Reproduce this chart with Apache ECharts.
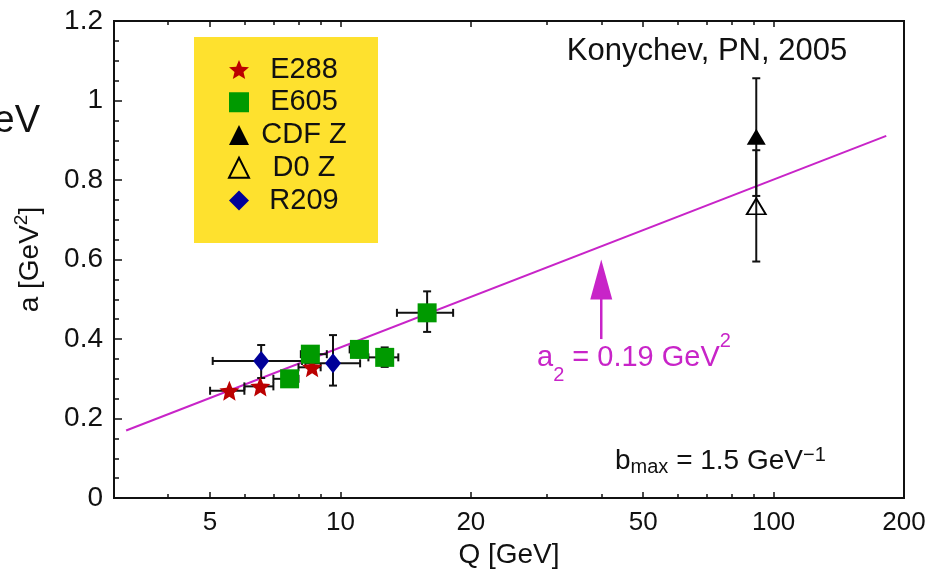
<!DOCTYPE html>
<html><head><meta charset="utf-8">
<script src="https://cdn.jsdelivr.net/npm/echarts@6/dist/echarts.min.js"></script>
<style>html,body{margin:0;padding:0;background:#fff}#c{width:944px;height:574px}</style>
</head><body><div id="c"></div>
<script>
// ---------------- data ----------------
const xAxisMin = 3, xAxisMax = 200;
const xTickLabels = [5, 10, 20, 50, 100, 200];
const xMajorTicks = [5, 10, 20, 50, 100];
const xMinorTicks = [4, 6, 7, 8, 9, 30, 40, 60, 70, 80, 90];
const yTickLabels = [0, 0.2, 0.4, 0.6, 0.8, 1, 1.2];

const e288Q   = [5.54, 6.53, 8.6];
const e288A   = [0.270, 0.281, 0.329];
const e288QLo = [5.0, 6.0, 8.0];
const e288QHi = [6.0, 7.0, 9.0];
const e288ALo = [0.270, 0.281, 0.329];
const e288AHi = [0.270, 0.281, 0.329];

const e605Q   = [7.63, 8.52, 11.06, 12.65, 15.85];
const e605A   = [0.300, 0.362, 0.374, 0.354, 0.466];
const e605QLo = [7.0, 8.1, 10.5, 11.6, 13.5];
const e605QHi = [8.0, 9.3, 11.5, 13.6, 18.2];
const e605ALo = [0.285, 0.347, 0.354, 0.330, 0.418];
const e605AHi = [0.315, 0.377, 0.394, 0.379, 0.520];

const cdfQ = [91.19], cdfA = [0.909], cdfALo = [0.760], cdfAHi = [1.056];
const d0Q  = [91.19], d0A  = [0.734], d0ALo  = [0.595], d0AHi  = [0.875];

const r209Q   = [6.56, 9.61];
const r209A   = [0.345, 0.339];
const r209QLo = [5.07, 8.3];
const r209QHi = [8.15, 11.1];
const r209ALo = [0.302, 0.283];
const r209AHi = [0.385, 0.410];

const fitQ = [3.2, 182];
const fitA = [0.17, 0.911];

const arrowQ = [40], arrowBase = [0.40], arrowTip = [0.60];

// ---------------- helpers ----------------
const L = Math.log10;
const FONT = '"Liberation Sans", Arial, Helvetica, sans-serif';
const MAG = '#C824C8';
const INK = '#111';
const STAR = 'path://M0,-10 L2.645,-3.64 L9.51,-3.09 L4.28,1.39 L5.88,8.09 L0,4.5 L-5.88,8.09 L-4.28,1.39 L-9.51,-3.09 L-2.645,-3.64 Z';

function pts(q, a) { return q.map((v, i) => [L(v), a[i]]); }
function errRows(q, a, ql, qh, al, ah) {
  return q.map((v, i) => [L(v), a[i], L(ql ? ql[i] : v), L(qh ? qh[i] : v), al[i], ah[i]]);
}
const errData = [].concat(
  errRows(e288Q, e288A, e288QLo, e288QHi, e288ALo, e288AHi),
  errRows(e605Q, e605A, e605QLo, e605QHi, e605ALo, e605AHi),
  errRows(r209Q, r209A, r209QLo, r209QHi, r209ALo, r209AHi),
  errRows(cdfQ, cdfA, null, null, cdfALo, cdfAHi),
  errRows(d0Q, d0A, null, null, d0ALo, d0AHi)
);

function renderErr(params, api) {
  const x = api.value(0), y = api.value(1);
  const xl = api.value(2), xh = api.value(3), yl = api.value(4), yh = api.value(5);
  const st = { stroke: INK, lineWidth: 2 };
  const cap = 4;
  const ch = [];
  if (xh > xl) {
    const p1 = api.coord([xl, y]), p2 = api.coord([xh, y]);
    ch.push({ type: 'line', shape: { x1: p1[0], y1: p1[1], x2: p2[0], y2: p2[1] }, style: st });
    ch.push({ type: 'line', shape: { x1: p1[0], y1: p1[1] - cap, x2: p1[0], y2: p1[1] + cap }, style: st });
    ch.push({ type: 'line', shape: { x1: p2[0], y1: p2[1] - cap, x2: p2[0], y2: p2[1] + cap }, style: st });
  }
  if (yh > yl) {
    const p1 = api.coord([x, yl]), p2 = api.coord([x, yh]);
    ch.push({ type: 'line', shape: { x1: p1[0], y1: p1[1], x2: p2[0], y2: p2[1] }, style: st });
    ch.push({ type: 'line', shape: { x1: p1[0] - cap, y1: p1[1], x2: p1[0] + cap, y2: p1[1] }, style: st });
    ch.push({ type: 'line', shape: { x1: p2[0] - cap, y1: p2[1], x2: p2[0] + cap, y2: p2[1] }, style: st });
  }
  return { type: 'group', children: ch };
}

function renderArrow(params, api) {
  const x = api.value(0);
  const pB = api.coord([x, api.value(1)]);
  const pT = api.coord([x, api.value(2)]);
  const headH = 40, headW = 11;
  return { type: 'group', children: [
    { type: 'line', shape: { x1: pB[0], y1: pB[1], x2: pT[0], y2: pT[1] + headH - 2 }, style: { stroke: MAG, lineWidth: 2.5 } },
    { type: 'polygon', shape: { points: [[pT[0], pT[1]], [pT[0] - headW, pT[1] + headH], [pT[0] + headW, pT[1] + headH]] }, style: { fill: MAG } }
  ]};
}

const xMin = L(xAxisMin), xMax = L(xAxisMax);
const tickStyle = { color: INK, width: 1.5 };
function xAxisDef(pos, ticks, len, labels) {
  return {
    type: 'value', position: pos, min: xMin, max: xMax,
    axisLine: { show: false }, splitLine: { show: false },
    axisTick: { show: true, inside: true, length: len, lineStyle: tickStyle, customValues: ticks.map(L) },
    axisLabel: labels ? {
      show: true, customValues: labels.map(L), margin: 12,
      fontSize: 26, fontFamily: FONT, color: INK,
      formatter: v => String(Math.round(Math.pow(10, v)))
    } : { show: false }
  };
}

const xAxes = [
  Object.assign(xAxisDef('bottom', xMajorTicks, 6, xTickLabels), {
    name: 'Q [GeV]', nameLocation: 'middle', nameGap: 37,
    nameTextStyle: { fontSize: 28, fontFamily: FONT, color: INK }
  }),
  xAxisDef('bottom', xMinorTicks, 4, null),
  xAxisDef('top', xMajorTicks, 6, null),
  xAxisDef('top', xMinorTicks, 4, null)
];

const chart = echarts.init(document.getElementById('c'), null, { renderer: 'canvas' });
chart.setOption({
  animation: false,
  backgroundColor: '#fff',
  grid: { left: 114, right: 40, top: 21, bottom: 73, show: true, borderColor: INK, borderWidth: 2, backgroundColor: 'transparent' },
  xAxis: xAxes,
  yAxis: {
    type: 'value', min: yTickLabels[0], max: yTickLabels[yTickLabels.length - 1],
    interval: yTickLabels[1] - yTickLabels[0],
    axisLine: { show: false }, splitLine: { show: false },
    axisTick: { show: true, inside: true, length: 8, lineStyle: tickStyle },
    minorTick: { show: true, splitNumber: 4, length: 5, lineStyle: tickStyle },
    minorSplitLine: { show: false },
    axisLabel: { margin: 11, fontSize: 28, fontFamily: FONT, color: INK },
    name: '{n|a [GeV}{s|2}{n|]}', nameLocation: 'middle', nameGap: 66,
    nameTextStyle: {
      fontFamily: FONT, color: INK,
      rich: {
        n: { fontSize: 28, fontFamily: FONT, color: INK, lineHeight: 36, verticalAlign: 'middle' },
        s: { fontSize: 19, fontFamily: FONT, color: INK, lineHeight: 24, verticalAlign: 'top' }
      }
    }
  },
  legend: {
    show: true, orient: 'vertical', left: 228, top: 55, padding: 0,
    itemWidth: 20, itemHeight: 20, itemGap: 3.75,
    data: ['E288', 'E605', 'CDF Z', 'D0 Z', 'R209'],
    formatter: n => '{c|' + n + '}',
    textStyle: {
      rich: { c: { width: 100, align: 'center', fontSize: 29, fontFamily: FONT, color: INK, lineHeight: 30 } }
    },
    z: 10
  },
  graphic: [
    { type: 'rect', z: 1, shape: { x: 194, y: 37, width: 184, height: 206 }, style: { fill: '#FEE12E' } },
    { type: 'text', z: 10, x: 707, y: 51, style: { text: 'Konychev, PN, 2005', fontSize: 31, fontFamily: FONT, fill: INK, align: 'center', verticalAlign: 'middle' } },
    { type: 'text', z: 10, x: 40, y: 122, style: { text: 'eV', fontSize: 38, fontFamily: FONT, fill: INK, align: 'right', verticalAlign: 'middle' } },
    { type: 'text', z: 10, x: 537, y: 358, style: {
        text: '{m|a}{b|2}{m| = 0.19 GeV}{p|2}', align: 'left', verticalAlign: 'middle', fill: MAG,
        rich: {
          m: { fontSize: 29, fontFamily: FONT, fill: MAG, lineHeight: 54, verticalAlign: 'middle' },
          b: { fontSize: 20, fontFamily: FONT, fill: MAG, lineHeight: 18, verticalAlign: 'bottom' },
          p: { fontSize: 20, fontFamily: FONT, fill: MAG, lineHeight: 28, verticalAlign: 'top' }
        } } },
    { type: 'text', z: 10, x: 615, y: 461, style: {
        text: '{m|b}{b|max}{m| = 1.5 GeV}{p|\u22121}', align: 'left', verticalAlign: 'middle', fill: INK,
        rich: {
          m: { fontSize: 28, fontFamily: FONT, fill: INK, lineHeight: 32, verticalAlign: 'middle' },
          b: { fontSize: 20, fontFamily: FONT, fill: INK, lineHeight: 18, verticalAlign: 'bottom' },
          p: { fontSize: 20, fontFamily: FONT, fill: INK, lineHeight: 14, verticalAlign: 'top' }
        } } }
  ],
  series: [
    { name: 'fit', type: 'line', data: pts(fitQ, fitA), symbol: 'none', z: 2,
      lineStyle: { color: MAG, width: 2 }, itemStyle: { color: MAG } },
    { name: 'arrow', type: 'custom', z: 2, renderItem: renderArrow,
      data: arrowQ.map((q, i) => [L(q), arrowBase[i], arrowTip[i]]) },
    { name: 'errors', type: 'custom', z: 3, renderItem: renderErr, data: errData },
    { name: 'E288', type: 'scatter', z: 4, symbol: STAR, symbolSize: 20, data: pts(e288Q, e288A),
      itemStyle: { color: '#BB0000', opacity: 1 } },
    { name: 'E605', type: 'scatter', z: 4, symbol: 'rect', symbolSize: 19, data: pts(e605Q, e605A),
      itemStyle: { color: '#009A00', opacity: 1 } },
    { name: 'CDF Z', type: 'scatter', z: 4, symbol: 'triangle', symbolSize: [19, 16], data: pts(cdfQ, cdfA),
      itemStyle: { color: '#000', opacity: 1 } },
    { name: 'D0 Z', type: 'scatter', z: 4, symbol: 'triangle', symbolSize: [19, 16], data: pts(d0Q, d0A),
      itemStyle: { color: 'rgba(255,255,255,0)', borderColor: '#000', borderWidth: 1.8, opacity: 1 } },
    { name: 'R209', type: 'scatter', z: 4, symbol: 'diamond', symbolSize: [16, 20], data: pts(r209Q, r209A),
      itemStyle: { color: '#000099', opacity: 1 } }
  ]
});
</script>
</body></html>
